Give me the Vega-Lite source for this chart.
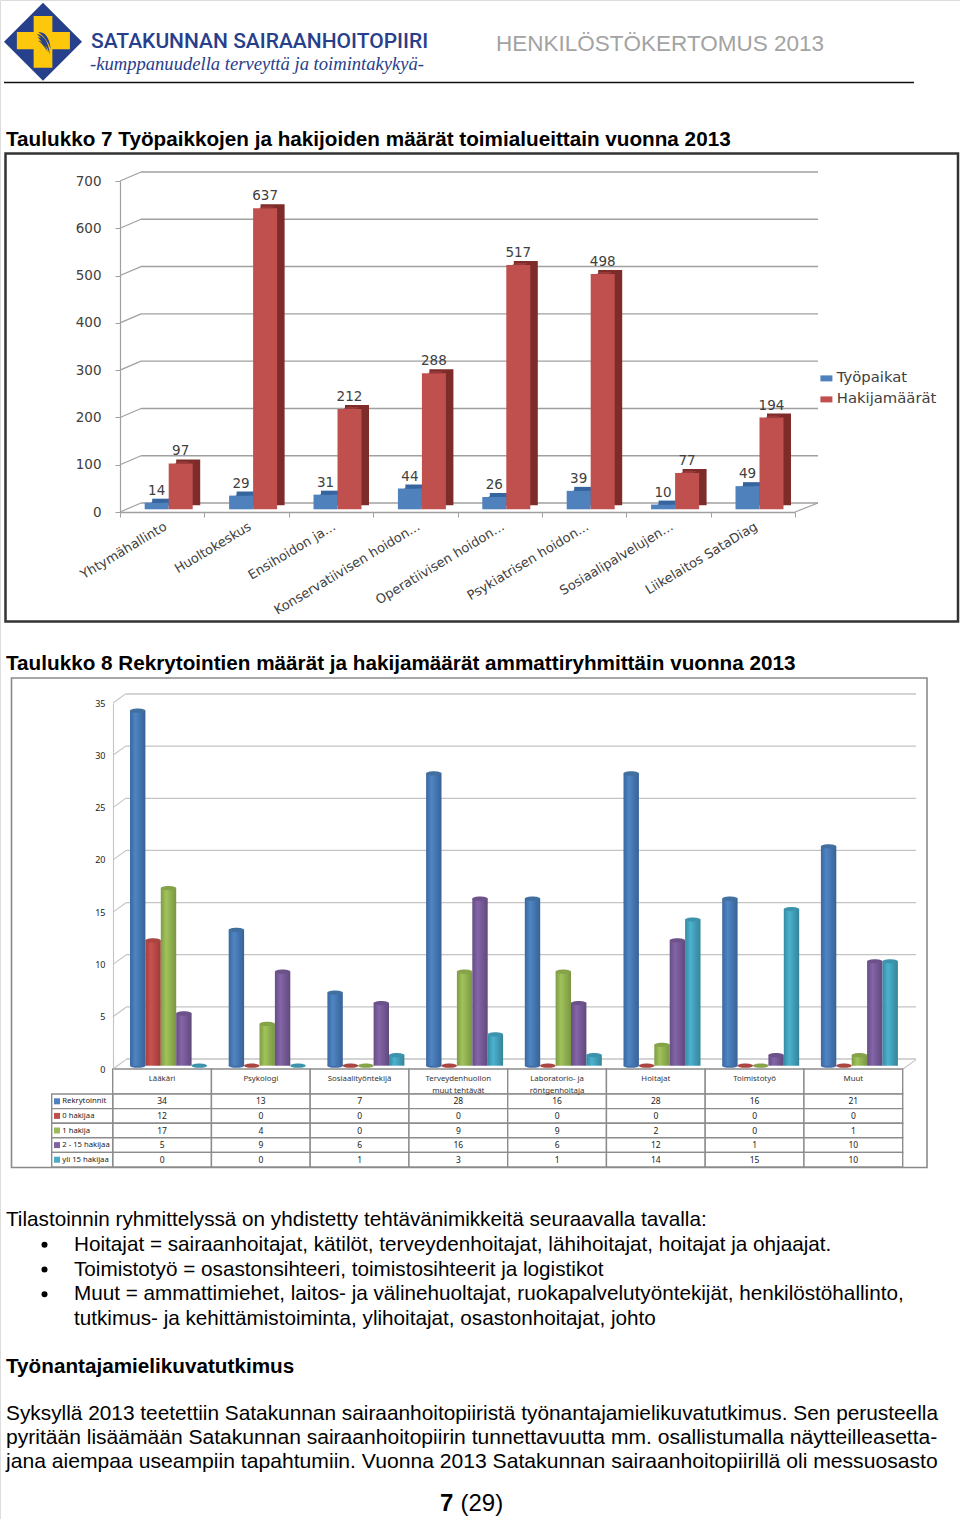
{
"$schema":"https://vega.github.io/schema/vega-lite/v6.json",
"width":960,"height":1519,"autosize":{"type":"none"},"padding":0,"background":"white",
"datasets":{
"yksi":[{"k":1}],
"t1":[
{"ala":"Yhtymähallinto","sarja":"Työpaikat","arvo":14},{"ala":"Huoltokeskus","sarja":"Työpaikat","arvo":29},{"ala":"Ensihoidon ja...","sarja":"Työpaikat","arvo":31},{"ala":"Konservatiivisen hoidon...","sarja":"Työpaikat","arvo":44},{"ala":"Operatiivisen hoidon...","sarja":"Työpaikat","arvo":26},{"ala":"Psykiatrisen hoidon...","sarja":"Työpaikat","arvo":39},{"ala":"Sosiaalipalvelujen...","sarja":"Työpaikat","arvo":10},{"ala":"Liikelaitos SataDiag","sarja":"Työpaikat","arvo":49},
{"ala":"Yhtymähallinto","sarja":"Hakijamäärät","arvo":97},{"ala":"Huoltokeskus","sarja":"Hakijamäärät","arvo":637},{"ala":"Ensihoidon ja...","sarja":"Hakijamäärät","arvo":212},{"ala":"Konservatiivisen hoidon...","sarja":"Hakijamäärät","arvo":288},{"ala":"Operatiivisen hoidon...","sarja":"Hakijamäärät","arvo":517},{"ala":"Psykiatrisen hoidon...","sarja":"Hakijamäärät","arvo":498},{"ala":"Sosiaalipalvelujen...","sarja":"Hakijamäärät","arvo":77},{"ala":"Liikelaitos SataDiag","sarja":"Hakijamäärät","arvo":194}],
"g1":[{"v":0,"v2":19},{"v":100,"v2":119},{"v":200,"v2":219},{"v":300,"v2":319},{"v":400,"v2":419},{"v":500,"v2":519},{"v":600,"v2":619},{"v":700,"v2":719}],
"g2":[{"v":0,"v2":0.9},{"v":5,"v2":5.9},{"v":10,"v2":10.9},{"v":15,"v2":15.9},{"v":20,"v2":20.9},{"v":25,"v2":25.9},{"v":30,"v2":30.9},{"v":35,"v2":35.9}],
"am":[{"ammatti":"Lääkäri"},{"ammatti":"Psykologi"},{"ammatti":"Sosiaalityöntekijä"},{"ammatti":"Terveydenhuollon\nmuut tehtävät"},{"ammatti":"Laboratorio- ja\nröntgenhoitaja"},{"ammatti":"Hoitajat"},{"ammatti":"Toimistotyö"},{"ammatti":"Muut"}],
"sa":[{"sarja":"Rekrytoinnit"},{"sarja":"0 hakijaa"},{"sarja":"1 hakija"},{"sarja":"2 - 15 hakijaa"},{"sarja":"yli 15 hakijaa"}],
"t2":[
{"ammatti":"Lääkäri","sarja":"Rekrytoinnit","arvo":34},{"ammatti":"Psykologi","sarja":"Rekrytoinnit","arvo":13},{"ammatti":"Sosiaalityöntekijä","sarja":"Rekrytoinnit","arvo":7},{"ammatti":"Terveydenhuollon\nmuut tehtävät","sarja":"Rekrytoinnit","arvo":28},{"ammatti":"Laboratorio- ja\nröntgenhoitaja","sarja":"Rekrytoinnit","arvo":16},{"ammatti":"Hoitajat","sarja":"Rekrytoinnit","arvo":28},{"ammatti":"Toimistotyö","sarja":"Rekrytoinnit","arvo":16},{"ammatti":"Muut","sarja":"Rekrytoinnit","arvo":21},
{"ammatti":"Lääkäri","sarja":"0 hakijaa","arvo":12},{"ammatti":"Psykologi","sarja":"0 hakijaa","arvo":0},{"ammatti":"Sosiaalityöntekijä","sarja":"0 hakijaa","arvo":0},{"ammatti":"Terveydenhuollon\nmuut tehtävät","sarja":"0 hakijaa","arvo":0},{"ammatti":"Laboratorio- ja\nröntgenhoitaja","sarja":"0 hakijaa","arvo":0},{"ammatti":"Hoitajat","sarja":"0 hakijaa","arvo":0},{"ammatti":"Toimistotyö","sarja":"0 hakijaa","arvo":0},{"ammatti":"Muut","sarja":"0 hakijaa","arvo":0},
{"ammatti":"Lääkäri","sarja":"1 hakija","arvo":17},{"ammatti":"Psykologi","sarja":"1 hakija","arvo":4},{"ammatti":"Sosiaalityöntekijä","sarja":"1 hakija","arvo":0},{"ammatti":"Terveydenhuollon\nmuut tehtävät","sarja":"1 hakija","arvo":9},{"ammatti":"Laboratorio- ja\nröntgenhoitaja","sarja":"1 hakija","arvo":9},{"ammatti":"Hoitajat","sarja":"1 hakija","arvo":2},{"ammatti":"Toimistotyö","sarja":"1 hakija","arvo":0},{"ammatti":"Muut","sarja":"1 hakija","arvo":1},
{"ammatti":"Lääkäri","sarja":"2 - 15 hakijaa","arvo":5},{"ammatti":"Psykologi","sarja":"2 - 15 hakijaa","arvo":9},{"ammatti":"Sosiaalityöntekijä","sarja":"2 - 15 hakijaa","arvo":6},{"ammatti":"Terveydenhuollon\nmuut tehtävät","sarja":"2 - 15 hakijaa","arvo":16},{"ammatti":"Laboratorio- ja\nröntgenhoitaja","sarja":"2 - 15 hakijaa","arvo":6},{"ammatti":"Hoitajat","sarja":"2 - 15 hakijaa","arvo":12},{"ammatti":"Toimistotyö","sarja":"2 - 15 hakijaa","arvo":1},{"ammatti":"Muut","sarja":"2 - 15 hakijaa","arvo":10},
{"ammatti":"Lääkäri","sarja":"yli 15 hakijaa","arvo":0},{"ammatti":"Psykologi","sarja":"yli 15 hakijaa","arvo":0},{"ammatti":"Sosiaalityöntekijä","sarja":"yli 15 hakijaa","arvo":1},{"ammatti":"Terveydenhuollon\nmuut tehtävät","sarja":"yli 15 hakijaa","arvo":3},{"ammatti":"Laboratorio- ja\nröntgenhoitaja","sarja":"yli 15 hakijaa","arvo":1},{"ammatti":"Hoitajat","sarja":"yli 15 hakijaa","arvo":14},{"ammatti":"Toimistotyö","sarja":"yli 15 hakijaa","arvo":15},{"ammatti":"Muut","sarja":"yli 15 hakijaa","arvo":10}],
"rivit":[
{"rivi":0,"teksti":"Tilastoinnin ryhmittelyssä on yhdistetty tehtävänimikkeitä seuraavalla tavalla:"},
{"rivi":8,"teksti":"Syksyllä 2013 teetettiin Satakunnan sairaanhoitopiiristä työnantajamielikuvatutkimus. Sen perusteella"},
{"rivi":9,"teksti":"pyritään lisäämään Satakunnan sairaanhoitopiirin tunnettavuutta mm. osallistumalla näytteilleasetta-"},
{"rivi":10,"teksti":"jana aiempaa useampiin tapahtumiin. Vuonna 2013 Satakunnan sairaanhoitopiirillä oli messuosasto"}],
"otsikko":[{"rivi":6,"teksti":"Työnantajamielikuvatutkimus"}],
"luettelo":[
{"rivi":1,"teksti":"Hoitajat = sairaanhoitajat, kätilöt, terveydenhoitajat, lähihoitajat, hoitajat ja ohjaajat."},
{"rivi":2,"teksti":"Toimistotyö = osastonsihteeri, toimistosihteerit ja logistikot"},
{"rivi":3,"teksti":"Muut = ammattimiehet, laitos- ja välinehuoltajat, ruokapalvelutyöntekijät, henkilöstöhallinto,"},
{"rivi":4,"teksti":"tutkimus- ja kehittämistoiminta, ylihoitajat, osastonhoitajat, johto"}],
"pallot":[{"rivi":1},{"rivi":2},{"rivi":3}]
},
"resolve":{"scale":{"x":"independent","y":"independent","color":"independent"},"axis":{"x":"independent","y":"independent"}},
"layer":[
{"data":{"name":"yksi"},"mark":{"type":"point","shape":"M0,-1L1,0L0,1L-1,0Z","filled":true,"opacity":1,"size":6084,"color":"#27408b"},
 "encoding":{"x":{"datum":0,"type":"quantitative","scale":{"domain":[0,1],"range":[43,44]},"axis":null},"y":{"datum":0,"type":"quantitative","scale":{"domain":[0,1],"range":[41.7,42.7]},"axis":null}}},
{"data":{"name":"yksi"},"mark":{"type":"point","shape":"M-0.24,-0.66L0.24,-0.66L0.24,-0.25L0.69,-0.25L0.69,0.195L0.24,0.195L0.24,0.67L-0.24,0.67L-0.24,0.195L-0.67,0.195L-0.67,-0.25L-0.24,-0.25Z","filled":true,"opacity":1,"size":6084,"color":"#fdc70c"},
 "encoding":{"x":{"datum":0,"type":"quantitative","scale":{"domain":[0,1],"range":[43,44]},"axis":null},"y":{"datum":0,"type":"quantitative","scale":{"domain":[0,1],"range":[41.7,42.7]},"axis":null}}},
{"data":{"name":"yksi"},"mark":{"type":"point","shape":"M-0.12,-0.24C0.04,-0.26 0.17,-0.12 0.2,0.2C0.12,-0.02 0.02,-0.15 -0.12,-0.24ZM-0.16,-0.2C0,-0.18 0.14,-0.03 0.18,0.33C0.1,0.1 0,-0.06 -0.16,-0.2ZM-0.14,-0.12C-0.02,-0.1 0.08,0.02 0.12,0.28C0.05,0.1 -0.03,0 -0.14,-0.12ZM-0.13,-0.03C-0.04,-0.02 0.03,0.06 0.08,0.22C0.02,0.1 -0.05,0.03 -0.13,-0.03Z","filled":true,"opacity":1,"size":6084,"color":"#27408b"},
 "encoding":{"x":{"datum":0,"type":"quantitative","scale":{"domain":[0,1],"range":[43,44]},"axis":null},"y":{"datum":0,"type":"quantitative","scale":{"domain":[0,1],"range":[41.7,42.7]},"axis":null}}},
{"data":{"values":[{"teksti":"SATAKUNNAN SAIRAANHOITOPIIRI"}]},"mark":{"type":"text","align":"left","baseline":"middle","font":"Roboto","fontSize":21,"fontWeight":500,"color":"#27408b"},
 "encoding":{"text":{"field":"teksti"},"x":{"datum":0,"type":"quantitative","scale":{"domain":[0,1],"range":[91,92]},"axis":null},"y":{"datum":0,"type":"quantitative","scale":{"domain":[0,1],"range":[42,43]},"axis":null}}},
{"data":{"values":[{"teksti":"-kumppanuudella terveyttä ja toimintakykyä-"}]},"mark":{"type":"text","align":"left","baseline":"middle","font":"Liberation Serif","fontStyle":"italic","fontSize":18.6,"color":"#27408b"},
 "encoding":{"text":{"field":"teksti"},"x":{"datum":0,"type":"quantitative","scale":{"domain":[0,1],"range":[90,91]},"axis":null},"y":{"datum":0,"type":"quantitative","scale":{"domain":[0,1],"range":[64,65]},"axis":null}}},
{"data":{"values":[{"teksti":"HENKILÖSTÖKERTOMUS 2013"}]},"mark":{"type":"text","align":"left","baseline":"middle","font":"Liberation Sans","fontSize":22.5,"color":"#a3a3a3"},
 "encoding":{"text":{"field":"teksti"},"x":{"datum":0,"type":"quantitative","scale":{"domain":[0,1],"range":[496,497]},"axis":null},"y":{"datum":0,"type":"quantitative","scale":{"domain":[0,1],"range":[44,45]},"axis":null}}},
{"data":{"name":"yksi"},"mark":{"type":"rule","color":"#111111","strokeWidth":1.5},
 "encoding":{"x":{"datum":0,"type":"quantitative","scale":{"domain":[0,1],"range":[4,914]},"axis":null},"x2":{"datum":1},"y":{"datum":0,"type":"quantitative","scale":{"domain":[0,1],"range":[82.5,83.5]},"axis":null}}},
{"data":{"values":[{"teksti":"Taulukko 7 Työpaikkojen ja hakijoiden määrät toimialueittain vuonna 2013"}]},"mark":{"type":"text","align":"left","baseline":"middle","font":"Liberation Sans","fontWeight":"bold","fontSize":20.7,"color":"#000000"},
 "encoding":{"text":{"field":"teksti"},"x":{"datum":0,"type":"quantitative","scale":{"domain":[0,1],"range":[6,7]},"axis":null},"y":{"datum":0,"type":"quantitative","scale":{"domain":[0,1],"range":[140.3,141.3]},"axis":null}}},
{"data":{"name":"yksi"},"mark":{"type":"rect","fill":"white","stroke":"#333333","strokeWidth":2.5},
 "encoding":{"x":{"datum":0,"type":"quantitative","scale":{"domain":[0,1],"range":[5.5,958]},"axis":null},"x2":{"datum":1},"y":{"datum":0,"type":"quantitative","scale":{"domain":[0,1],"range":[153.5,621.5]},"axis":null},"y2":{"datum":1}}},

{"data":{"name":"g1"},"mark":{"type":"rule","color":"#a0a0a0","strokeWidth":1.4},
 "encoding":{"x":{"datum":0,"type":"quantitative","scale":{"domain":[0,1],"range":[141,818]},"axis":null},"x2":{"datum":1},"y":{"field":"v","type":"quantitative","scale":{"domain":[0,700],"range":[503,172]},"axis":null}}},
{"data":{"name":"g1"},"mark":{"type":"rule","color":"#a0a0a0","strokeWidth":1.2},
 "encoding":{"x":{"datum":0,"type":"quantitative","scale":{"domain":[0,1],"range":[120,141]},"axis":null},"x2":{"datum":1},"y":{"field":"v","type":"quantitative","scale":{"domain":[0,700],"range":[512,181]},"axis":null},"y2":{"field":"v2"}}},
{"data":{"values":[{"v":0,"v2":19}]},"mark":{"type":"rule","color":"#a0a0a0","strokeWidth":1.2},
 "encoding":{"x":{"datum":0,"type":"quantitative","scale":{"domain":[0,1],"range":[795,818]},"axis":null},"x2":{"datum":1},"y":{"field":"v","type":"quantitative","scale":{"domain":[0,700],"range":[512,181]},"axis":null},"y2":{"field":"v2"}}},
{"data":{"name":"t1"},"transform":[{"filter":{"field":"sarja","equal":"Työpaikat"}}],"mark":{"type":"bar","color":"#37659f"},
 "encoding":{"x":{"field":"ala","type":"nominal","sort":null,"axis":null,"scale":{"type":"band","range":[152.2,767],"paddingInner":0.7156,"paddingOuter":0}},"y":{"field":"arvo","type":"quantitative","stack":null,"axis":null,"scale":{"domain":[0,700],"range":[505.3,174.4]}}}},
{"data":{"name":"t1"},"transform":[{"filter":{"field":"sarja","equal":"Työpaikat"}}],"mark":{"type":"bar"},
 "encoding":{"x":{"field":"ala","type":"nominal","sort":null,"axis":null,"scale":{"type":"band","range":[144.7,759.5],"paddingInner":0.7156,"paddingOuter":0}},"y":{"field":"arvo","type":"quantitative","stack":null,"axis":null,"scale":{"domain":[0,700],"range":[509.3,178.4]}},
 "color":{"field":"sarja","type":"nominal","legend":null,"scale":{"domain":["Työpaikat","Hakijamäärät"],"range":["#4f81bd","#c0504d"]}}}},
{"data":{"name":"t1"},"transform":[{"filter":{"field":"sarja","equal":"Työpaikat"}}],"mark":{"type":"point","shape":"M-1,0L1,0L1.625,-0.33L-0.375,-0.33Z","filled":true,"opacity":1,"size":144,"color":"#37659f"},
 "encoding":{"x":{"field":"ala","type":"nominal","sort":null,"axis":null,"scale":{"type":"band","range":[144.7,759.5],"paddingInner":0.7156,"paddingOuter":0}},"y":{"field":"arvo","type":"quantitative","axis":null,"scale":{"domain":[0,700],"range":[509.3,178.4]}}}},
{"data":{"name":"t1"},"transform":[{"filter":{"field":"sarja","equal":"Hakijamäärät"}}],"mark":{"type":"bar","color":"#7d2c29"},
 "encoding":{"x":{"field":"ala","type":"nominal","sort":null,"axis":null,"scale":{"type":"band","range":[176.2,791],"paddingInner":0.7156,"paddingOuter":0}},"y":{"field":"arvo","type":"quantitative","stack":null,"axis":null,"scale":{"domain":[0,700],"range":[505.3,174.4]}}}},
{"data":{"name":"t1"},"transform":[{"filter":{"field":"sarja","equal":"Hakijamäärät"}}],"mark":{"type":"point","shape":"M1,0L1.625,-0.33L1,-0.33Z","filled":true,"opacity":1,"size":144,"color":"#7d2c29"},
 "encoding":{"x":{"field":"ala","type":"nominal","sort":null,"axis":null,"scale":{"type":"band","range":[168.7,783.5],"paddingInner":0.7156,"paddingOuter":0}},"y":{"datum":0,"type":"quantitative","axis":null,"scale":{"domain":[0,700],"range":[509.3,178.4]}}}},
{"data":{"name":"t1"},"transform":[{"filter":{"field":"sarja","equal":"Hakijamäärät"}}],"mark":{"type":"bar"},
 "encoding":{"x":{"field":"ala","type":"nominal","sort":null,"axis":null,"scale":{"type":"band","range":[168.7,783.5],"paddingInner":0.7156,"paddingOuter":0}},"y":{"field":"arvo","type":"quantitative","stack":null,"axis":null,"scale":{"domain":[0,700],"range":[509.3,178.4]}},
 "color":{"field":"sarja","type":"nominal","scale":{"domain":["Työpaikat","Hakijamäärät"],"range":["#4f81bd","#c0504d"]},
  "legend":{"orient":"none","legendX":819,"legendY":371,"title":null,"symbolType":"M-1,-0.5L1,-0.5L1,0.5L-1,0.5Z","symbolSize":144,"symbolStrokeWidth":0,"labelFont":"DejaVu Sans","labelFontSize":14.8,"labelColor":"#404040","labelOffset":3,"rowPadding":5}}}},
{"data":{"name":"t1"},"transform":[{"filter":{"field":"sarja","equal":"Hakijamäärät"}}],"mark":{"type":"point","shape":"M-1,0L1,0L1.625,-0.33L-0.375,-0.33Z","filled":true,"opacity":1,"size":144,"color":"#97383a"},
 "encoding":{"x":{"field":"ala","type":"nominal","sort":null,"axis":null,"scale":{"type":"band","range":[168.7,783.5],"paddingInner":0.7156,"paddingOuter":0}},"y":{"field":"arvo","type":"quantitative","axis":null,"scale":{"domain":[0,700],"range":[509.3,178.4]}}}},
{"data":{"name":"t1"},"transform":[{"filter":{"field":"sarja","equal":"Työpaikat"}}],"mark":{"type":"text","font":"DejaVu Sans","fontSize":13.5,"color":"#404040","baseline":"middle","dy":-12},
 "encoding":{"text":{"field":"arvo"},"x":{"field":"ala","type":"nominal","sort":null,"axis":null,"scale":{"type":"band","range":[144.7,759.5],"paddingInner":0.7156,"paddingOuter":0}},"y":{"field":"arvo","type":"quantitative","axis":null,"scale":{"domain":[0,700],"range":[509.3,178.4]}}}},
{"data":{"name":"t1"},"transform":[{"filter":{"field":"sarja","equal":"Hakijamäärät"}}],"mark":{"type":"text","font":"DejaVu Sans","fontSize":13.5,"color":"#404040","baseline":"middle","dy":-12},
 "encoding":{"text":{"field":"arvo"},"x":{"field":"ala","type":"nominal","sort":null,"axis":null,"scale":{"type":"band","range":[168.7,783.5],"paddingInner":0.7156,"paddingOuter":0}},"y":{"field":"arvo","type":"quantitative","axis":null,"scale":{"domain":[0,700],"range":[509.3,178.4]}}}},
{"data":{"name":"t1"},"transform":[{"filter":{"field":"sarja","equal":"Työpaikat"}}],"mark":{"type":"tick","opacity":0},
 "encoding":{"x":{"field":"ala","type":"nominal","sort":null,"scale":{"type":"band","range":[120,795],"paddingInner":0,"paddingOuter":0},
  "axis":{"orient":"bottom","offset":-1007,"zindex":1,"title":null,"tickBand":"extent","tickSize":5,"tickColor":"#a0a0a0","domainColor":"#a0a0a0","domainWidth":1.4,"labelAngle":-31,"labelAlign":"right","labelBaseline":"middle","labelPadding":8,"labelOffset":3,"labelFont":"DejaVu Sans","labelFontSize":13,"labelColor":"#404040","labelLimit":300,"labelOverlap":false,"labelBound":false,"grid":false}},
  "y":{"datum":0,"type":"quantitative","scale":{"domain":[0,700],"range":[512,181]},
  "axis":{"orient":"left","offset":-120,"zindex":1,"title":null,"values":[0,100,200,300,400,500,600,700],"tickSize":5,"tickColor":"#a0a0a0","domainColor":"#a0a0a0","domainWidth":1.2,"labelPadding":14,"labelFont":"DejaVu Sans","labelFontSize":13.5,"labelColor":"#404040","grid":false}}}},

{"data":{"values":[{"teksti":"Taulukko 8 Rekrytointien määrät ja hakijamäärät ammattiryhmittäin vuonna 2013"}]},"mark":{"type":"text","align":"left","baseline":"middle","font":"Liberation Sans","fontWeight":"bold","fontSize":20.7,"color":"#000000"},
 "encoding":{"text":{"field":"teksti"},"x":{"datum":0,"type":"quantitative","scale":{"domain":[0,1],"range":[6,7]},"axis":null},"y":{"datum":0,"type":"quantitative","scale":{"domain":[0,1],"range":[664,665]},"axis":null}}},
{"data":{"name":"yksi"},"mark":{"type":"rect","fill":"white","stroke":"#8a8a8a","strokeWidth":1.6},
 "encoding":{"x":{"datum":0,"type":"quantitative","scale":{"domain":[0,1],"range":[11.5,927]},"axis":null},"x2":{"datum":1},"y":{"datum":0,"type":"quantitative","scale":{"domain":[0,1],"range":[678,1167.5]},"axis":null},"y2":{"datum":1}}},
{"data":{"name":"g2"},"mark":{"type":"rule","color":"#c4c4c4","strokeWidth":1.3},
 "encoding":{"x":{"datum":0,"type":"quantitative","scale":{"domain":[0,1],"range":[126,916]},"axis":null},"x2":{"datum":1},"y":{"field":"v","type":"quantitative","scale":{"domain":[0,35],"range":[1059,694]},"axis":null}}},
{"data":{"name":"g2"},"mark":{"type":"rule","color":"#c4c4c4","strokeWidth":1.1},
 "encoding":{"x":{"datum":0,"type":"quantitative","scale":{"domain":[0,1],"range":[113,126]},"axis":null},"x2":{"datum":1},"y":{"field":"v","type":"quantitative","scale":{"domain":[0,35],"range":[1069,703]},"axis":null},"y2":{"field":"v2"}}},
{"data":{"values":[{"v":0,"v2":0.9}]},"mark":{"type":"rule","color":"#c4c4c4","strokeWidth":1.1},
 "encoding":{"x":{"datum":0,"type":"quantitative","scale":{"domain":[0,1],"range":[903,916]},"axis":null},"x2":{"datum":1},"y":{"field":"v","type":"quantitative","scale":{"domain":[0,35],"range":[1069,703]},"axis":null},"y2":{"field":"v2"}}},
{"data":{"name":"yksi"},"mark":{"type":"tick","opacity":0},
 "encoding":{"y":{"datum":0,"type":"quantitative","scale":{"domain":[0,35],"range":[1069,703]},
  "axis":{"orient":"left","offset":-113,"zindex":1,"title":null,"values":[0,5,10,15,20,25,30,35],"tickSize":0,"domainColor":"#c4c4c4","domainWidth":1.1,"labelPadding":8,"labelFont":"Noto Sans","labelFontSize":9,"labelColor":"#222222","grid":false}}}},

{"data":{"name":"t2"},"transform":[{"filter":{"field":"sarja","equal":"Rekrytoinnit"}}],"mark":{"type":"point","shape":"M-1,0A1,0.28 0 1 1 1,0A1,0.28 0 1 1 -1,0Z","filled":true,"opacity":1,"size":237,"color":"#3f6ea8"},
 "encoding":{"x":{"field":"ammatti","type":"nominal","sort":null,"axis":null,"scale":{"type":"band","range":[130,836.3],"paddingInner":0.844,"paddingOuter":0}},"y":{"datum":0,"type":"quantitative","axis":null,"scale":{"domain":[0,35],"range":[1065.7,700.3]}}}},
{"data":{"name":"t2"},"transform":[{"filter":{"field":"sarja","equal":"Rekrytoinnit"}}],"mark":{"type":"bar","color":{"gradient":"linear","x1":0,"x2":1,"y1":0,"y2":0,"stops":[{"offset":0,"color":"#3a689f"},{"offset":0.35,"color":"#4f85c4"},{"offset":1,"color":"#376297"}]}},
 "encoding":{"x":{"field":"ammatti","type":"nominal","sort":null,"axis":null,"scale":{"type":"band","range":[130,836.3],"paddingInner":0.844,"paddingOuter":0}},"y":{"field":"arvo","type":"quantitative","stack":null,"axis":null,"scale":{"domain":[0,35],"range":[1065.7,700.3]}}}},
{"data":{"name":"t2"},"transform":[{"filter":{"field":"sarja","equal":"Rekrytoinnit"}}],"mark":{"type":"point","shape":"M-1,0A1,0.28 0 1 1 1,0A1,0.28 0 1 1 -1,0Z","filled":true,"opacity":1,"size":237,"color":"#41709f"},
 "encoding":{"x":{"field":"ammatti","type":"nominal","sort":null,"axis":null,"scale":{"type":"band","range":[130,836.3],"paddingInner":0.844,"paddingOuter":0}},"y":{"field":"arvo","type":"quantitative","axis":null,"scale":{"domain":[0,35],"range":[1065.7,700.3]}}}},

{"data":{"name":"t2"},"transform":[{"filter":{"field":"sarja","equal":"0 hakijaa"}}],"mark":{"type":"bar","color":{"gradient":"linear","x1":0,"x2":1,"y1":0,"y2":0,"stops":[{"offset":0,"color":"#a33f3c"},{"offset":0.35,"color":"#c8524f"},{"offset":1,"color":"#9c3b38"}]}},
 "encoding":{"x":{"field":"ammatti","type":"nominal","sort":null,"axis":null,"scale":{"type":"band","range":[145.4,851.7],"paddingInner":0.844,"paddingOuter":0}},"y":{"field":"arvo","type":"quantitative","stack":null,"axis":null,"scale":{"domain":[0,35],"range":[1065.7,700.3]}}}},
{"data":{"name":"t2"},"transform":[{"filter":{"field":"sarja","equal":"0 hakijaa"}}],"mark":{"type":"point","shape":"M-1,0A1,0.28 0 1 1 1,0A1,0.28 0 1 1 -1,0Z","filled":true,"opacity":1,"size":237,"color":"#ab4542"},
 "encoding":{"x":{"field":"ammatti","type":"nominal","sort":null,"axis":null,"scale":{"type":"band","range":[145.4,851.7],"paddingInner":0.844,"paddingOuter":0}},"y":{"field":"arvo","type":"quantitative","axis":null,"scale":{"domain":[0,35],"range":[1065.7,700.3]}}}},

{"data":{"name":"t2"},"transform":[{"filter":{"field":"sarja","equal":"1 hakija"}}],"mark":{"type":"bar","color":{"gradient":"linear","x1":0,"x2":1,"y1":0,"y2":0,"stops":[{"offset":0,"color":"#7f9c45"},{"offset":0.35,"color":"#a0c35a"},{"offset":1,"color":"#7a9642"}]}},
 "encoding":{"x":{"field":"ammatti","type":"nominal","sort":null,"axis":null,"scale":{"type":"band","range":[160.8,867.1],"paddingInner":0.844,"paddingOuter":0}},"y":{"field":"arvo","type":"quantitative","stack":null,"axis":null,"scale":{"domain":[0,35],"range":[1065.7,700.3]}}}},
{"data":{"name":"t2"},"transform":[{"filter":{"field":"sarja","equal":"1 hakija"}}],"mark":{"type":"point","shape":"M-1,0A1,0.28 0 1 1 1,0A1,0.28 0 1 1 -1,0Z","filled":true,"opacity":1,"size":237,"color":"#86a34a"},
 "encoding":{"x":{"field":"ammatti","type":"nominal","sort":null,"axis":null,"scale":{"type":"band","range":[160.8,867.1],"paddingInner":0.844,"paddingOuter":0}},"y":{"field":"arvo","type":"quantitative","axis":null,"scale":{"domain":[0,35],"range":[1065.7,700.3]}}}},

{"data":{"name":"t2"},"transform":[{"filter":{"field":"sarja","equal":"2 - 15 hakijaa"}}],"mark":{"type":"bar","color":{"gradient":"linear","x1":0,"x2":1,"y1":0,"y2":0,"stops":[{"offset":0,"color":"#664d84"},{"offset":0.35,"color":"#8465a8"},{"offset":1,"color":"#60497d"}]}},
 "encoding":{"x":{"field":"ammatti","type":"nominal","sort":null,"axis":null,"scale":{"type":"band","range":[176.2,882.5],"paddingInner":0.844,"paddingOuter":0}},"y":{"field":"arvo","type":"quantitative","stack":null,"axis":null,"scale":{"domain":[0,35],"range":[1065.7,700.3]}}}},
{"data":{"name":"t2"},"transform":[{"filter":{"field":"sarja","equal":"2 - 15 hakijaa"}}],"mark":{"type":"point","shape":"M-1,0A1,0.28 0 1 1 1,0A1,0.28 0 1 1 -1,0Z","filled":true,"opacity":1,"size":237,"color":"#6c5289"},
 "encoding":{"x":{"field":"ammatti","type":"nominal","sort":null,"axis":null,"scale":{"type":"band","range":[176.2,882.5],"paddingInner":0.844,"paddingOuter":0}},"y":{"field":"arvo","type":"quantitative","axis":null,"scale":{"domain":[0,35],"range":[1065.7,700.3]}}}},

{"data":{"name":"t2"},"transform":[{"filter":{"field":"sarja","equal":"yli 15 hakijaa"}}],"mark":{"type":"bar","color":{"gradient":"linear","x1":0,"x2":1,"y1":0,"y2":0,"stops":[{"offset":0,"color":"#378ba2"},{"offset":0.35,"color":"#4bb2cf"},{"offset":1,"color":"#348499"}]}},
 "encoding":{"x":{"field":"ammatti","type":"nominal","sort":null,"axis":null,"scale":{"type":"band","range":[191.6,897.9],"paddingInner":0.844,"paddingOuter":0}},"y":{"field":"arvo","type":"quantitative","stack":null,"axis":null,"scale":{"domain":[0,35],"range":[1065.7,700.3]}}}},
{"data":{"name":"t2"},"transform":[{"filter":{"field":"sarja","equal":"yli 15 hakijaa"}}],"mark":{"type":"point","shape":"M-1,0A1,0.28 0 1 1 1,0A1,0.28 0 1 1 -1,0Z","filled":true,"opacity":1,"size":237,"color":"#3c93ab"},
 "encoding":{"x":{"field":"ammatti","type":"nominal","sort":null,"axis":null,"scale":{"type":"band","range":[191.6,897.9],"paddingInner":0.844,"paddingOuter":0}},"y":{"field":"arvo","type":"quantitative","axis":null,"scale":{"domain":[0,35],"range":[1065.7,700.3]}}}},

{"data":{"name":"am"},"mark":{"type":"rect","fill":"white","stroke":"#8c8c8c","strokeWidth":1.4},
 "encoding":{"x":{"field":"ammatti","type":"nominal","sort":null,"axis":null,"scale":{"type":"band","range":[112.7,902.7],"padding":0}},"y":{"datum":"o","type":"nominal","axis":null,"scale":{"type":"band","domain":["o"],"range":[1069,1094],"padding":0}}}},
{"data":{"name":"t2"},"mark":{"type":"rect","fill":"white","stroke":"#8c8c8c","strokeWidth":1.4},
 "encoding":{"x":{"field":"ammatti","type":"nominal","sort":null,"axis":null,"scale":{"type":"band","range":[112.7,902.7],"padding":0}},"y":{"field":"sarja","type":"nominal","sort":null,"axis":null,"scale":{"type":"band","range":[1094,1167],"padding":0}}}},
{"data":{"name":"sa"},"mark":{"type":"rect","fill":"white","stroke":"#8c8c8c","strokeWidth":1.4},
 "encoding":{"x":{"datum":"k","type":"nominal","axis":null,"scale":{"type":"band","domain":["k"],"range":[51.7,112.7],"padding":0}},"y":{"field":"sarja","type":"nominal","sort":null,"axis":null,"scale":{"type":"band","range":[1094,1167],"padding":0}}}},
{"data":{"name":"sa"},"mark":{"type":"square","opacity":1,"size":36},
 "encoding":{"x":{"datum":"k","type":"nominal","axis":null,"scale":{"type":"band","domain":["k"],"range":[54,60],"padding":0}},"y":{"field":"sarja","type":"nominal","sort":null,"axis":null,"scale":{"type":"band","range":[1094,1167],"padding":0}},
 "color":{"field":"sarja","type":"nominal","legend":null,"sort":null,"scale":{"domain":["Rekrytoinnit","0 hakijaa","1 hakija","2 - 15 hakijaa","yli 15 hakijaa"],"range":["#4f81bd","#c0504d","#9bbb59","#8064a2","#4bacc6"]}}}},
{"data":{"name":"sa"},"mark":{"type":"text","align":"left","baseline":"middle","font":"Noto Sans","fontSize":7.7,"color":"#222222"},
 "encoding":{"text":{"field":"sarja"},"x":{"datum":0,"type":"quantitative","axis":null,"scale":{"domain":[0,1],"range":[62.3,63.3]}},"y":{"field":"sarja","type":"nominal","sort":null,"axis":null,"scale":{"type":"band","range":[1094,1167],"padding":0}}}},
{"data":{"name":"am"},"mark":{"type":"text","align":"center","baseline":"top","lineBreak":"\n","lineHeight":12,"dy":-6.5,"font":"Noto Sans","fontSize":7.8,"color":"#333333"},
 "encoding":{"text":{"field":"ammatti"},"x":{"field":"ammatti","type":"nominal","sort":null,"axis":null,"scale":{"type":"band","range":[112.7,902.7],"padding":0}},"y":{"datum":"o","type":"nominal","axis":null,"scale":{"type":"band","domain":["o"],"range":[1069,1094],"padding":0}}}},
{"data":{"name":"t2"},"mark":{"type":"text","baseline":"middle","font":"Noto Sans","fontSize":8.5,"color":"#222222"},
 "encoding":{"text":{"field":"arvo"},"x":{"field":"ammatti","type":"nominal","sort":null,"axis":null,"scale":{"type":"band","range":[112.7,902.7],"padding":0}},"y":{"field":"sarja","type":"nominal","sort":null,"axis":null,"scale":{"type":"band","range":[1094,1167],"padding":0}}}},

{"data":{"name":"rivit"},"transform":[{"filter":{"field":"rivi","equal":0}}],"mark":{"type":"text","align":"left","baseline":"middle","font":"Liberation Sans","fontSize":20.7,"color":"#000000"},
 "encoding":{"text":{"field":"teksti"},"x":{"datum":0,"type":"quantitative","axis":null,"scale":{"domain":[0,1],"range":[6,7]}},"y":{"field":"rivi","type":"quantitative","axis":null,"scale":{"domain":[0,4,6,8,10],"range":[1220,1319,1367,1414,1462]}}}},
{"data":{"name":"rivit"},"transform":[{"filter":{"field":"rivi","equal":8}}],"mark":{"type":"text","align":"left","baseline":"middle","font":"Liberation Sans","fontSize":20.83,"color":"#000000"},
 "encoding":{"text":{"field":"teksti"},"x":{"datum":0,"type":"quantitative","axis":null,"scale":{"domain":[0,1],"range":[6,7]}},"y":{"field":"rivi","type":"quantitative","axis":null,"scale":{"domain":[0,4,6,8,10],"range":[1220,1319,1367,1414,1462]}}}},
{"data":{"name":"rivit"},"transform":[{"filter":{"field":"rivi","equal":9}}],"mark":{"type":"text","align":"left","baseline":"middle","font":"Liberation Sans","fontSize":21.06,"color":"#000000"},
 "encoding":{"text":{"field":"teksti"},"x":{"datum":0,"type":"quantitative","axis":null,"scale":{"domain":[0,1],"range":[6,7]}},"y":{"field":"rivi","type":"quantitative","axis":null,"scale":{"domain":[0,4,6,8,10],"range":[1220,1319,1367,1414,1462]}}}},
{"data":{"name":"rivit"},"transform":[{"filter":{"field":"rivi","equal":10}}],"mark":{"type":"text","align":"left","baseline":"middle","font":"Liberation Sans","fontSize":21.13,"color":"#000000"},
 "encoding":{"text":{"field":"teksti"},"x":{"datum":0,"type":"quantitative","axis":null,"scale":{"domain":[0,1],"range":[6,7]}},"y":{"field":"rivi","type":"quantitative","axis":null,"scale":{"domain":[0,4,6,8,10],"range":[1220,1319,1367,1414,1462]}}}},
{"data":{"name":"otsikko"},"mark":{"type":"text","align":"left","baseline":"middle","font":"Liberation Sans","fontSize":20.7,"fontWeight":"bold","color":"#000000"},
 "encoding":{"text":{"field":"teksti"},"x":{"datum":0,"type":"quantitative","axis":null,"scale":{"domain":[0,1],"range":[6,7]}},"y":{"field":"rivi","type":"quantitative","axis":null,"scale":{"domain":[0,4,6,8,10],"range":[1220,1319,1367,1414,1462]}}}},
{"data":{"name":"luettelo"},"mark":{"type":"text","align":"left","baseline":"middle","font":"Liberation Sans","fontSize":20.7,"color":"#000000"},
 "encoding":{"text":{"field":"teksti"},"x":{"datum":0,"type":"quantitative","axis":null,"scale":{"domain":[0,1],"range":[74,75]}},"y":{"field":"rivi","type":"quantitative","axis":null,"scale":{"domain":[0,4,6,8,10],"range":[1220,1319,1367,1414,1462]}}}},
{"data":{"name":"pallot"},"mark":{"type":"circle","opacity":1,"size":36,"color":"#000000"},
 "encoding":{"x":{"datum":0,"type":"quantitative","axis":null,"scale":{"domain":[0,1],"range":[44.5,45.5]}},"y":{"field":"rivi","type":"quantitative","axis":null,"scale":{"domain":[0,4,6,8,10],"range":[1220,1319,1367,1414,1462]}}}},
{"data":{"values":[{"teksti":"7"}]},"mark":{"type":"text","align":"left","baseline":"middle","font":"Liberation Sans","fontWeight":"bold","fontSize":24,"color":"#000000"},
 "encoding":{"text":{"field":"teksti"},"x":{"datum":0,"type":"quantitative","axis":null,"scale":{"domain":[0,1],"range":[440,441]}},"y":{"datum":0,"type":"quantitative","axis":null,"scale":{"domain":[0,1],"range":[1504,1505]}}}},
{"data":{"values":[{"teksti":"(29)"}]},"mark":{"type":"text","align":"left","baseline":"middle","font":"Liberation Sans","fontSize":24,"color":"#000000"},
 "encoding":{"text":{"field":"teksti"},"x":{"datum":0,"type":"quantitative","axis":null,"scale":{"domain":[0,1],"range":[460.5,461.5]}},"y":{"datum":0,"type":"quantitative","axis":null,"scale":{"domain":[0,1],"range":[1504,1505]}}}}
]
}
